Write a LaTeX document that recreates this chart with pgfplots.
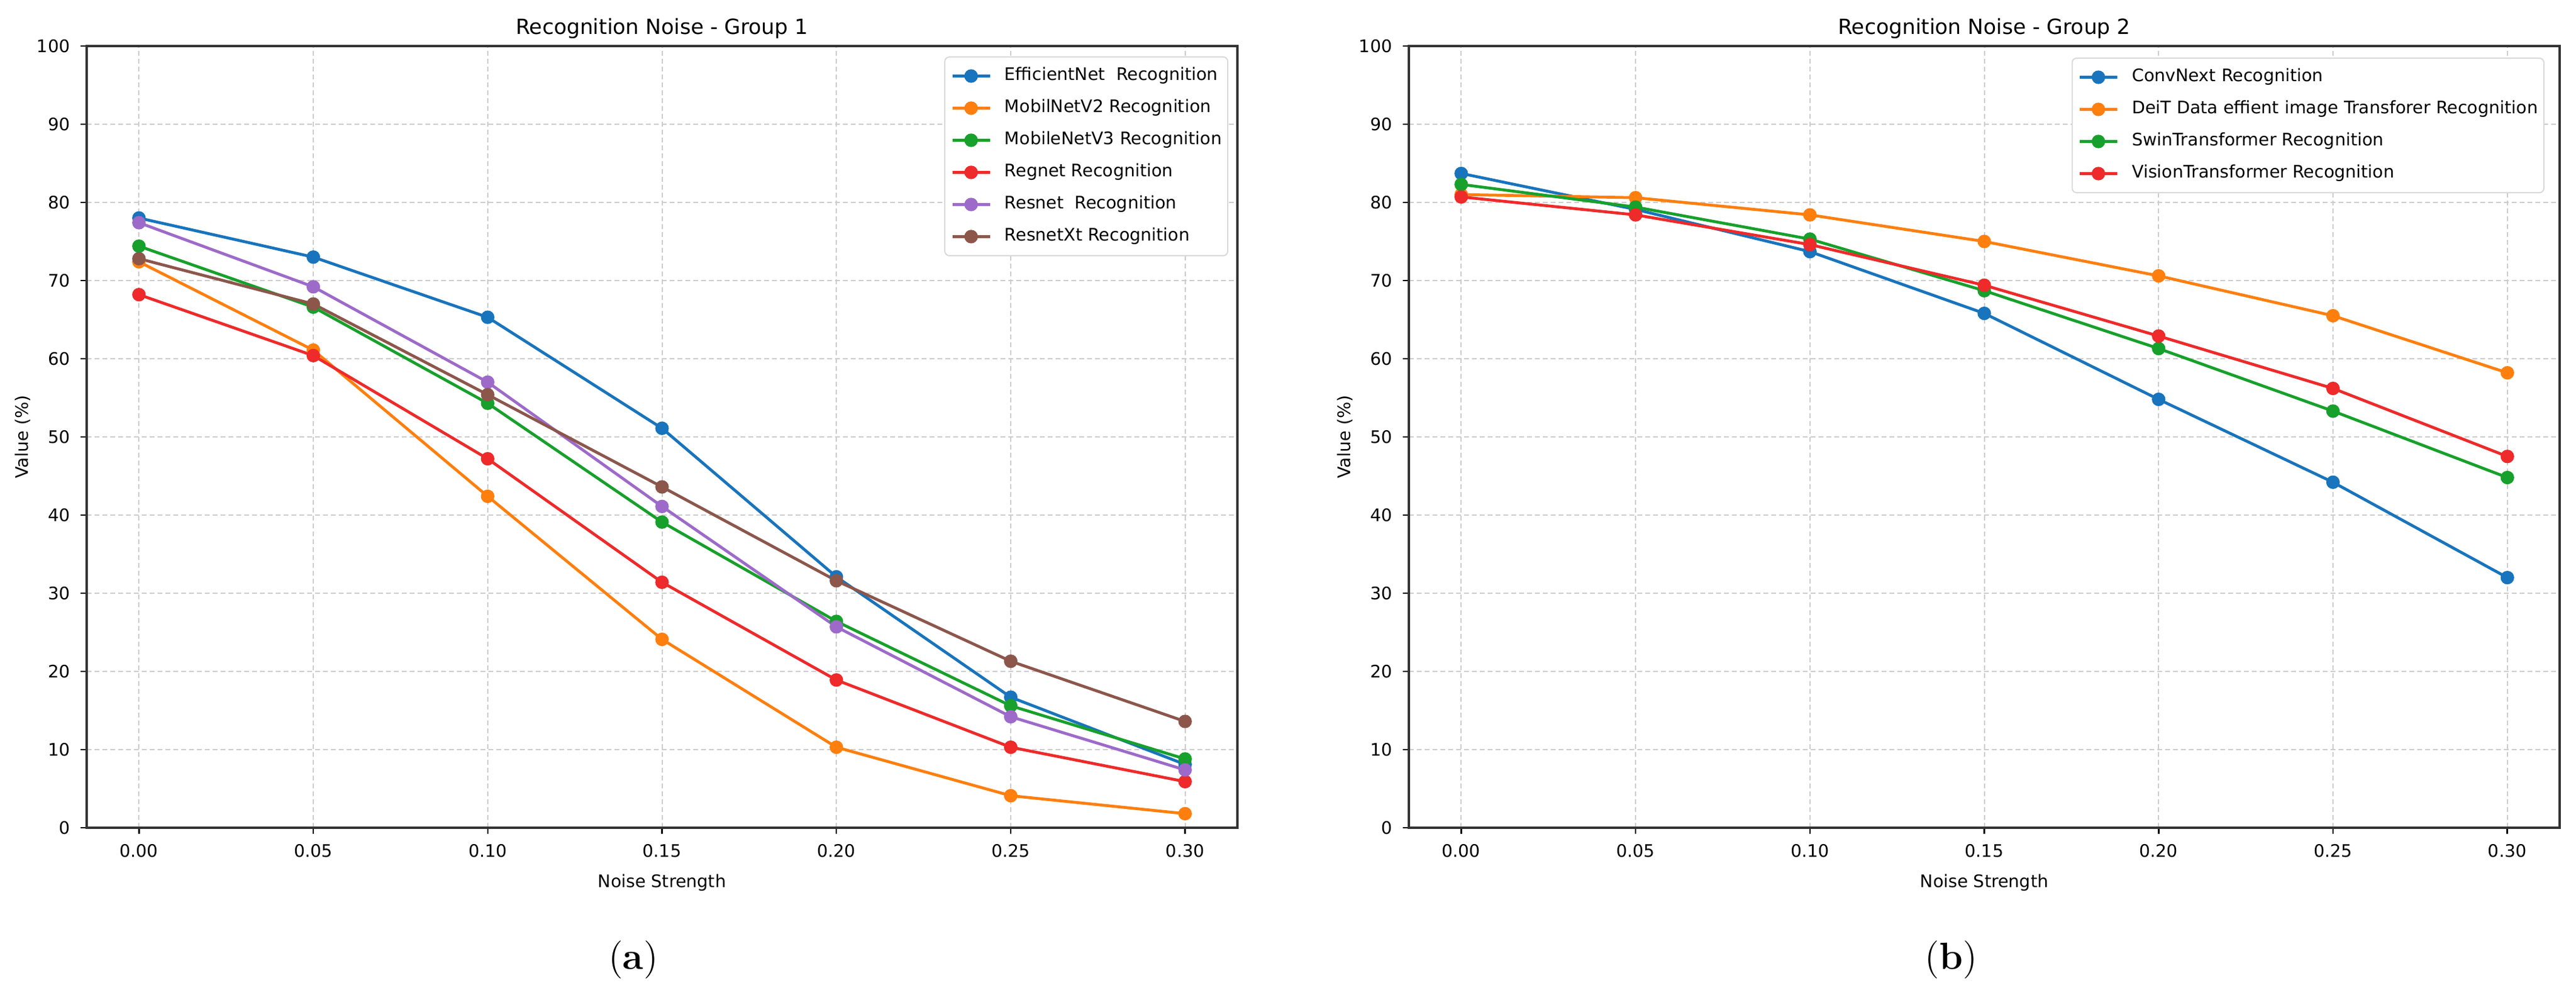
\documentclass[border=0pt]{standalone}
\usepackage{fontspec}
\usepackage{pgfplots}
\pgfplotsset{compat=1.18}
\newfontfamily\dejavu{DejaVu Sans}
\newcommand\tf{\dejavu\fontsize{5.7}{6.8}\selectfont}
\definecolor{cblue}{HTML}{1874BC}
\definecolor{corange}{HTML}{FF7F0E}
\definecolor{cgreen}{HTML}{17A02B}
\definecolor{cred}{HTML}{EE2A2A}
\definecolor{cpurple}{HTML}{9D6AC9}
\definecolor{cbrown}{HTML}{8C564B}

\pgfplotstableread{
x     eff   mob2  mob3  reg   res   resx
0.00  78.0  72.4  74.4  68.2  77.4  72.8
0.05  73.0  61.1  66.6  60.4  69.2  67.0
0.10  65.3  42.4  54.3  47.2  57.0  55.4
0.15  51.1  24.1  39.1  31.4  41.1  43.6
0.20  32.1  10.3  26.4  18.9  25.7  31.6
0.25  16.7  4.1   15.6  10.3  14.2  21.3
0.30  8.1   1.8   8.8   5.9   7.4   13.6
}\groupone

\pgfplotstableread{
x     conv  deit  swin  vit
0.00  83.7  81.0  82.3  80.7
0.05  79.1  80.6  79.4  78.4
0.10  73.7  78.4  75.3  74.6
0.15  65.8  75.0  68.7  69.4
0.20  54.8  70.6  61.3  62.9
0.25  44.2  65.5  53.3  56.2
0.30  32.0  58.2  44.8  47.5
}\grouptwo

\pgfplotsset{
  myaxis/.style={
    scale only axis, width=379.8pt, height=258pt,
    xmin=-0.015, xmax=0.315, ymin=0, ymax=100,
    xtick={0,0.05,0.10,0.15,0.20,0.25,0.30},
    xticklabels={0.00,0.05,0.10,0.15,0.20,0.25,0.30},
    ytick={0,10,20,30,40,50,60,70,80,90,100},
    yticklabels={0,10,20,30,40,50,60,70,80,90,100},
    /pgf/number format/assume math mode=true,
    tick align=outside, xtick pos=bottom, ytick pos=left,
    major tick length=2pt,
    tick style={black, line width=0.5pt},
    axis line style={black!80, line width=0.65pt},
    grid=major,
    major grid style={gray!40, line width=0.4pt, dash pattern=on 1.6pt off 1pt},
    ticklabel style={font=\tf},
    xlabel={Noise Strength},
    ylabel={Value (\%)},
    xlabel style={font=\tf, at={(axis description cs:0.5,-0.0767)}, anchor=base, inner sep=0pt},
    ylabel style={font=\tf, at={(axis description cs:-0.0553,0.5)}, anchor=center, inner sep=0pt},
    every axis plot/.append style={line width=0.95pt, mark=*, mark size=1.75pt, mark options={solid}},
    legend style={at={(1,1)}, anchor=north east, draw=gray!30, line width=0.4pt,
      rounded corners=1.5pt, fill=white, font=\tf,
      inner xsep=2pt, inner ysep=3.6pt, row sep=5.2pt, column sep=4.4pt,
      nodes={inner sep=0pt, text height=4.2pt, text depth=1.2pt}},
    legend cell align=left,
    legend image code/.code={\draw[mark repeat=2,mark phase=2,#1] plot coordinates {(0pt,0pt) (6.2pt,0pt) (12.4pt,0pt)};},
  }
}

\begin{document}
\begin{tikzpicture}
\path[use as bounding box] (0,0) rectangle (850.2pt,328.4pt);

\begin{axis}[myaxis, at={(28.6pt,55.2pt)}, anchor=south west,
  legend style={xshift=-3pt, yshift=-3.4pt}]
\addplot[color=cblue] table[x=x,y=eff] {\groupone};
\addlegendentry{EfficientNet~ Recognition}
\addplot[color=corange] table[x=x,y=mob2] {\groupone};
\addlegendentry{MobilNetV2 Recognition}
\addplot[color=cgreen] table[x=x,y=mob3] {\groupone};
\addlegendentry{MobileNetV3 Recognition}
\addplot[color=cred] table[x=x,y=reg] {\groupone};
\addlegendentry{Regnet Recognition}
\addplot[color=cpurple] table[x=x,y=res] {\groupone};
\addlegendentry{Resnet~ Recognition}
\addplot[color=cbrown] table[x=x,y=resx] {\groupone};
\addlegendentry{ResnetXt Recognition}
\end{axis}

\begin{axis}[myaxis, at={(465pt,55.2pt)}, anchor=south west,
  legend style={xshift=-5pt, yshift=-3.8pt}]
\addplot[color=cblue] table[x=x,y=conv] {\grouptwo};
\addlegendentry{ConvNext Recognition}
\addplot[color=corange] table[x=x,y=deit] {\grouptwo};
\addlegendentry{DeiT Data effient image Transforer Recognition}
\addplot[color=cgreen] table[x=x,y=swin] {\grouptwo};
\addlegendentry{SwinTransformer Recognition}
\addplot[color=cred] table[x=x,y=vit] {\grouptwo};
\addlegendentry{VisionTransformer Recognition}
\end{axis}

\node[font=\dejavu\fontsize{6.9}{8}\selectfont, anchor=base, inner sep=0pt] at (218.5pt,317pt) {Recognition Noise - Group 1};
\node[font=\dejavu\fontsize{6.9}{8}\selectfont, anchor=base, inner sep=0pt] at (654.9pt,317pt) {Recognition Noise - Group 2};
\node[font=\fontsize{12.5}{14}\selectfont, anchor=base] at (209pt,8.4pt) {(\textbf{a})};
\node[font=\fontsize{12.5}{14}\selectfont, anchor=base] at (644pt,8.4pt) {(\textbf{b})};
\end{tikzpicture}
\end{document}
